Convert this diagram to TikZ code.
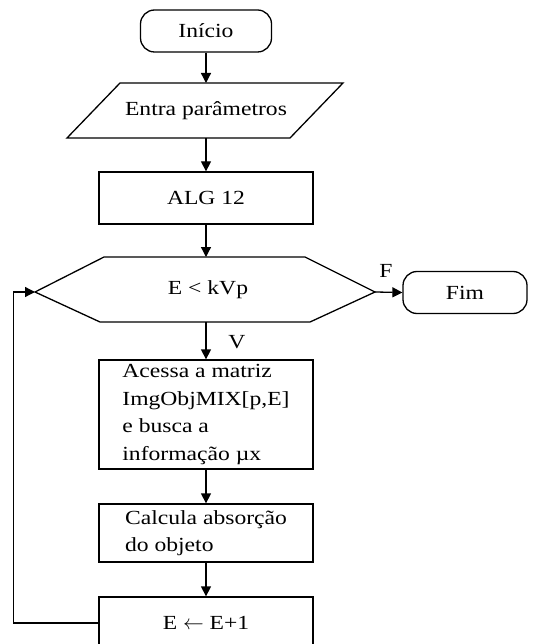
\documentclass[tikz,border=0pt]{standalone}
\usepackage{fontspec}
\setmainfont[FakeStretch=1.18]{Liberation Serif}
\usetikzlibrary{arrows.meta}
\begin{document}
\begin{tikzpicture}[x=1pt,y=-1pt,
  every node/.style={font=\fontsize{20}{27.5}\selectfont},
  line/.style={line width=1.3pt},
  arr/.style={line, -{Triangle[width=10pt,length=10pt]}},
  term/.style={draw, line width=1.3pt, rounded corners=14pt,
    minimum height=42pt, inner sep=0pt},
  proc/.style={draw, line width=1.3pt, minimum width=214pt,
    inner sep=0pt, align=left},
  lbl/.style={inner sep=0pt}]
\useasboundingbox (0,0) rectangle (534,644);
\clip (0,0) rectangle (534,644);

% start terminal
\node[term, minimum width=131pt] (ini) at (206,31) {Início};

% input (parallelogram)
\draw[line] (120,83) -- (343,83) -- (290,138) -- (67,138) -- cycle;
\node (entra) at (206,110.5) {Entra parâmetros};
\coordinate (entraT) at (206,83);
\coordinate (entraB) at (206,138);

% process ALG 12
\node[proc, minimum height=52pt] (alg) at (206,198) {ALG 12};

% decision (hexagon)
\coordinate (hexL) at (35,292);
\coordinate (hexR) at (375,292);
\coordinate (hexT) at (206,257);
\coordinate (hexB) at (206,322);
\draw[line] (hexL) -- (104,257) -- (305,257) -- (hexR) -- (310,322) -- (100,322) -- cycle;
\node (cond) at (208,290) {E < kVp};

% end terminal
\node[term, minimum width=124pt] (fim) at (465,292.5) {Fim};

% process boxes
\node[proc, minimum height=109pt] (acessa) at (206,414.5)
  {Acessa a matriz\\ImgObjMIX[p,E]\\e busca a\\informação µx};
\node[proc, minimum height=58pt] (calc) at (206,533)
  {Calcula absorção\\do objeto};
\node[proc, minimum height=52pt] (inc) at (206,623) {E $\leftarrow$ E+1};

% branch labels
\node[lbl] (f) at (386,271) {F};
\node[lbl] (v) at (237,342) {V};

% connectors
\draw[arr] (ini.south) -- (entraT);
\draw[arr] (entraB) -- (alg.north);
\draw[arr] (alg.south) -- (hexT);
\draw[arr] (hexB) -- (acessa.north);
\draw[arr] (acessa.south) -- (calc.north);
\draw[arr] (calc.south) -- (inc.north);
\draw[arr] (hexR) -- (fim.west);
\draw[arr] (inc.west) -- ++(-85,0) |- (hexL);
\end{tikzpicture}
\end{document}
